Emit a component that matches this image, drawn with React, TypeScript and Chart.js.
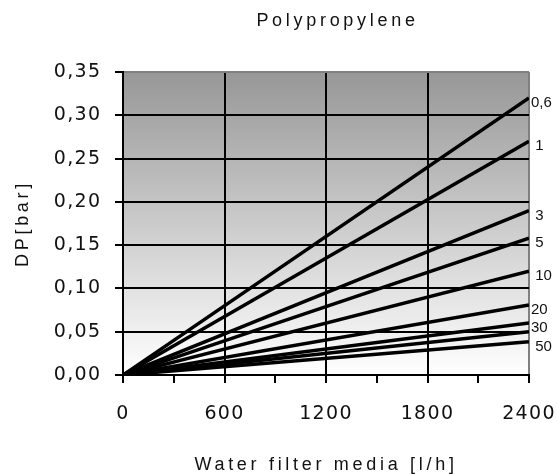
import React, { useEffect, useRef } from 'react';
import { Chart, registerables } from 'chart.js';

Chart.register(...registerables);

// ---- text ----
const TITLE = 'Polypropylene';
const X_TITLE = 'Water filter media [l/h]';
const Y_TITLE = 'DP[bar]';

// ---- tick labels ----
const X_TICK_LABELS = ['0', '600', '1200', '1800', '2400'];
const Y_TICK_LABELS = ['0,00', '0,05', '0,10', '0,15', '0,20', '0,25', '0,30', '0,35'];

// ---- data: flow [l/h] and pressure drop [bar] per filter grade (µm) ----
const FLOW = [0, 2400];
const DP_0_6 = [0, 0.32];
const DP_1 = [0, 0.27];
const DP_3 = [0, 0.19];
const DP_5 = [0, 0.158];
const DP_10 = [0, 0.12];
const DP_20 = [0, 0.081];
const DP_30 = [0, 0.06];
const DP_40 = [0, 0.05];
const DP_50 = [0, 0.0385];

const SERIES = [DP_0_6, DP_1, DP_3, DP_5, DP_10, DP_20, DP_30, DP_40, DP_50];
const END_LABELS = ['0,6', ' 1', ' 3', ' 5', ' 10', '20', '30', '', ' 50'];

const SANS = '"Liberation Sans", Arial, sans-serif';
const TICK_FONT = '"DejaVu Sans", Verdana, sans-serif';
const TICK_SPACING = '1.3px';
const TITLE_SPACING = '3.7px';
const TITLE_DX = 73;

function patch(obj: any, name: string, chart: any, spacing: string, dx = 0) {
  if (!obj || obj['__patched_' + name]) return;
  const orig = obj[name];
  obj[name] = function (...args: any[]) {
    const ctx = chart.ctx;
    const prev = ctx.letterSpacing;
    ctx.save();
    ctx.letterSpacing = spacing;
    if (dx) ctx.translate(dx, 0);
    try {
      return orig.apply(this, args);
    } finally {
      ctx.restore();
      ctx.letterSpacing = prev;
    }
  };
  obj['__patched_' + name] = true;
}

const spacingPlugin = {
  id: 'spacing',
  beforeDraw(chart: any) {
    const { x, y } = chart.scales;
    patch(x, 'drawLabels', chart, TICK_SPACING);
    patch(y, 'drawLabels', chart, TICK_SPACING);
    patch(x, 'drawTitle', chart, TITLE_SPACING);
    patch(y, 'drawTitle', chart, TITLE_SPACING);
    patch(chart.titleBlock, 'draw', chart, TITLE_SPACING, TITLE_DX);
  },
};

const backgroundPlugin = {
  id: 'plotBackground',
  beforeDraw(chart: any) {
    const { ctx, chartArea } = chart;
    const { left, top, right, bottom } = chartArea;
    const g = ctx.createLinearGradient(0, top, 0, bottom);
    g.addColorStop(0, '#979797');
    g.addColorStop(1, '#ffffff');
    ctx.save();
    ctx.fillStyle = g;
    ctx.fillRect(left, top, right - left, bottom - top);
    ctx.restore();
  },
};

const endLabelPlugin = {
  id: 'endLabels',
  afterDatasetsDraw(chart: any) {
    const { ctx, chartArea } = chart;
    ctx.save();
    ctx.font = `15px ${SANS}`;
    ctx.fillStyle = '#111';
    ctx.textAlign = 'left';
    ctx.textBaseline = 'middle';
    ctx.letterSpacing = '0px';
    chart.data.datasets.forEach((ds: any, i: number) => {
      const meta = chart.getDatasetMeta(i);
      const pt = meta.data[meta.data.length - 1];
      if (!pt || !END_LABELS[i]) return;
      ctx.fillText(END_LABELS[i], chartArea.right + 2, pt.y + 5);
    });
    ctx.restore();
  },
};

export default function App() {
  const ref = useRef<HTMLCanvasElement>(null);

  useEffect(() => {
    const datasets = SERIES.map((vals, i) => ({
      label: END_LABELS[i].trim() || 'DP',
      data: FLOW.map((f, j) => ({ x: f, y: vals[j] })),
      borderColor: '#000',
      backgroundColor: '#000',
      borderWidth: 3.5,
      pointRadius: 0,
      fill: false,
      tension: 0,
    }));

    const chart = new Chart(ref.current as HTMLCanvasElement, {
      type: 'line',
      data: { datasets },
      options: {
        animation: false,
        responsive: true,
        maintainAspectRatio: false,
        layout: { padding: { left: 0, right: 28, top: 0, bottom: 0 } },
        plugins: {
          legend: { display: false },
          tooltip: { enabled: false },
          title: {
            display: true,
            text: TITLE,
            color: '#111',
            font: { family: SANS, size: 18, weight: 'normal', lineHeight: 1.2 },
            padding: { top: 10, bottom: 40.4 },
          },
        },
        scales: {
          x: {
            type: 'linear',
            min: 0,
            max: 2400,
            afterFit: (s: any) => {
              s.height = 100;
            },
            ticks: {
              stepSize: 300,
              autoSkip: false,
              maxRotation: 0,
              padding: 2.5,
              color: '#111',
              font: { family: TICK_FONT, size: 19, lineHeight: 3 },
              callback: (v: any) => (Number(v) % 600 === 0 ? X_TICK_LABELS[Number(v) / 600] : ''),
            },
            grid: {
              lineWidth: 2,
              tickLength: 8,
              tickColor: '#000',
              color: (c: any) => {
                const v = c.tick ? c.tick.value : 0;
                if (v >= 2400) return '#808080';
                return v % 600 === 0 ? '#000' : 'rgba(0,0,0,0)';
              },
            },
            border: { display: true, color: '#000', width: 2 },
            title: {
              display: true,
              text: X_TITLE,
              color: '#111',
              font: { family: SANS, size: 18, lineHeight: 1 },
              padding: { top: 0, bottom: 1 },
            },
          },
          y: {
            type: 'linear',
            min: 0,
            max: 0.35,
            afterFit: (s: any) => {
              s.width = 123;
            },
            ticks: {
              stepSize: 0.05,
              padding: 13.7,
              color: '#111',
              font: { family: TICK_FONT, size: 19 },
              callback: (_v: any, i: number) => Y_TICK_LABELS[i],
            },
            grid: {
              lineWidth: 2,
              tickLength: 8,
              tickColor: '#000',
              color: (c: any) => (c.tick && c.tick.value > 0.34 ? '#808080' : '#000'),
            },
            border: { display: true, color: '#000', width: 2 },
            title: {
              display: true,
              text: Y_TITLE,
              color: '#111',
              font: { family: SANS, size: 18, lineHeight: 1 },
              padding: { top: 14.5, bottom: 0 },
            },
          },
        },
      },
      plugins: [spacingPlugin, backgroundPlugin, endLabelPlugin],
    } as any);

    return () => chart.destroy();
  }, []);

  return (
    <div style={{ position: 'absolute', left: 0, top: 0, width: 557, height: 475, background: '#fff' }}>
      <canvas ref={ref} />
    </div>
  );
}
